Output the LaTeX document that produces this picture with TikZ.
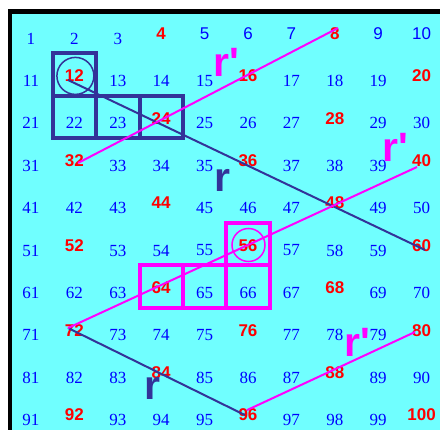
\documentclass[tikz,border=0pt]{standalone}
\usepackage{fontspec}
\usepackage{xcolor}
\usetikzlibrary{positioning}
\newfontfamily\hcserif{Liberation Serif}
\newfontfamily\hcsans{Liberation Sans}
\newcommand\hcprime{\XeTeXglyph\XeTeXglyphindex "quotesingle"\relax}
\definecolor{hcCyan}{HTML}{70FFFF}
\definecolor{hcBlue}{HTML}{0000FF}
\definecolor{hcRed}{HTML}{FF0000}
\definecolor{hcNavy}{HTML}{333399}
\definecolor{hcMagenta}{HTML}{FF00FF}
\tikzset{
  hc-num/.style={inner sep=0pt, outer sep=0pt},
  hc-serif/.style={hc-num, text=hcBlue,
    font=\hcserif\fontsize{17}{17}\selectfont, yshift=-5pt},
  hc-sans/.style={hc-num, text=hcBlue,
    font=\hcsans\fontsize{17}{17}\selectfont},
  hc-red/.style={hc-num, text=hcRed,
    font=\hcsans\bfseries\fontsize{17}{17}\selectfont},
  hc-cell/.style={rectangle, minimum width=43.4pt, minimum height=42.4pt,
    inner sep=0pt, line width=4pt, yshift=1.5pt},
  hc-navybox/.style={hc-cell, draw=hcNavy},
  hc-magbox/.style={hc-cell, draw=hcMagenta},
  hc-navyring/.style={circle, draw=hcNavy, line width=1.5pt,
    minimum size=37pt, inner sep=0pt},
  hc-magring/.style={circle, draw=hcMagenta, line width=1.5pt,
    minimum size=33pt, inner sep=0pt},
  hc-navyline/.style={draw=hcNavy, line width=2pt},
  hc-magline/.style={draw=hcMagenta, line width=2pt},
  hc-big/.style={inner sep=0pt, anchor=base west,
    font=\hcsans\bfseries\fontsize{41}{41}\selectfont},
  hc-navyr/.style={hc-big, text=hcNavy},
  hc-magr/.style={hc-big, text=hcMagenta}
}
\begin{document}
\begin{tikzpicture}[x=1pt, y=-1pt]
% frame
\fill[white] (0,0) rectangle (440,430);
\fill[black] (8,9.5) rectangle (440,430);
\fill[hcCyan] (12,14) rectangle (440,430);
\useasboundingbox (0,0) rectangle (440,430);

% hundred chart
\foreach \r in {0,...,9}
  \foreach \c in {1,...,10} {
    \pgfmathtruncatemacro\k{10*\r+\c}
    \pgfmathtruncatemacro\kind{mod(\k,4)==0 ? 0 : (((\k>4) && (\k<11)) ? 1 : 2)}
    \coordinate (c\k) at ({31+43.4*(\c-1)}, {33.5+42.4*\r});
    \ifcase\kind
      \node[hc-red] (n\k) at (c\k) {\k};
    \or
      \node[hc-sans] (n\k) at (c\k) {\k};
    \else
      \node[hc-serif] (n\k) at (c\k) {\k};
    \fi
  }

% navy shape
\foreach \k in {12,22,23,24}
  \node[hc-navybox] (b\k) at (c\k) {};
\node[hc-navyring, xshift=1pt] (o12) at (c12) {};

% magenta shape
\foreach \k in {56,64,65,66}
  \node[hc-magbox] (b\k) at (c\k) {};
\node[hc-magring, xshift=0.5pt, yshift=0.5pt] (o56) at (c56) {};

% lines
\draw[hc-navyline] ([shift={(-6.4,4.1)}]n12.center) -- ([shift={(3.4,4.5)}]n60.center);
\draw[hc-navyline] ([shift={(-6.4,-2.3)}]n72.center) -- ([shift={(-3,0)}]n96.center);
\draw[hc-magline] ([shift={(3.6,2.3)}]n32.center) -- ([shift={(3.2,-5.5)}]n8.center);
\draw[hc-magline] ([shift={(-4.6,6.3)}]n40.center) -- ([shift={(-6.4,-2.3)}]n72.center);
\draw[hc-magline] ([shift={(-6.6,1.7)}]n80.center) -- ([shift={(-1,-5)}]n96.center);

% labels
\node[hc-navyr] (rA) at (214.4,192) {r};
\node[hc-navyr] (rB) at (144.2,400) {r};
\node[hc-magr] (pA) at (213.2,77) {r\hcprime};
\node[hc-magr] (pB) at (382.4,162) {r\hcprime};
\node[hc-magr] (pC) at (344.4,357) {r\hcprime};
\end{tikzpicture}
\end{document}
